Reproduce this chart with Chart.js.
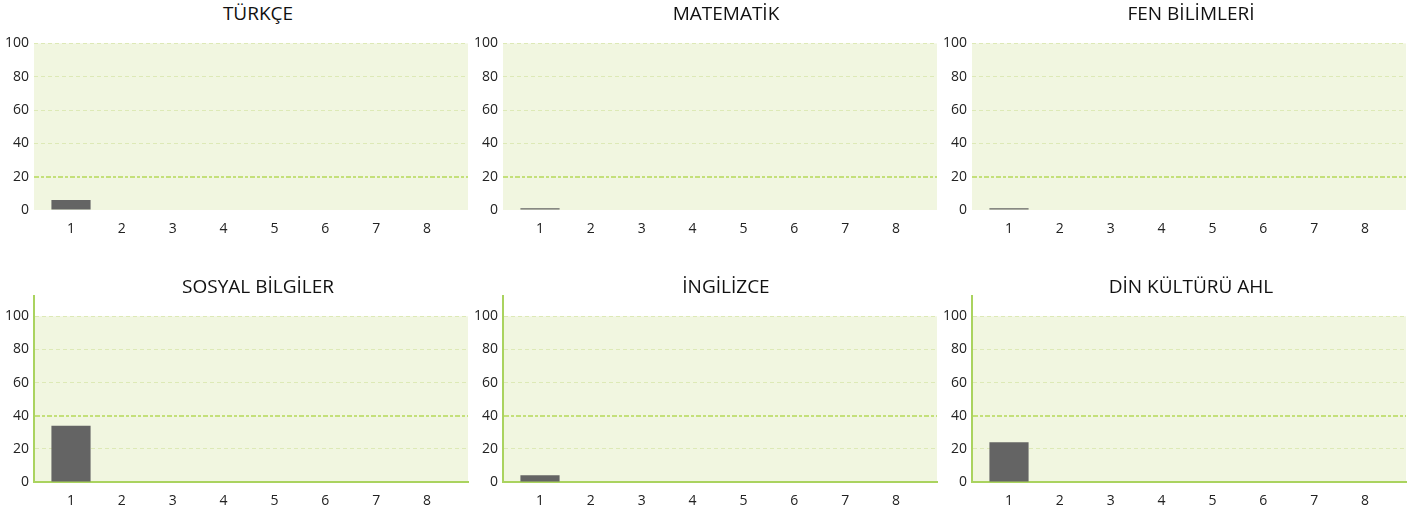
<!DOCTYPE html>
<html>
<head>
<meta charset="utf-8">
<script src="https://cdn.jsdelivr.net/npm/chart.js@4"></script>
<style>
  body { margin: 0; background: #fff; width: 1427px; height: 520px; position: relative; overflow: hidden; font-family: "Open Sans", sans-serif; }
  .box { position: absolute; }
  .ttl { position: absolute; width: 400px; text-align: center; font-size: 19px; line-height: 23px; color: #111; }
</style>
</head>
<body>
<script>
// data
const subjects = ['TÜRKÇE', 'MATEMATİK', 'FEN BİLİMLERİ', 'SOSYAL BİLGİLER', 'İNGİLİZCE', 'DİN KÜLTÜRÜ AHL'];
const exams = [1, 2, 3, 4, 5, 6, 7, 8];
const turkce = [6, 0, 0, 0, 0, 0, 0, 0];
const matematik = [1, 0, 0, 0, 0, 0, 0, 0];
const fen = [1, 0, 0, 0, 0, 0, 0, 0];
const sosyal = [34, 0, 0, 0, 0, 0, 0, 0];
const ingilizce = [4, 0, 0, 0, 0, 0, 0, 0];
const din = [24, 0, 0, 0, 0, 0, 0, 0];
const scores = [turkce, matematik, fen, sosyal, ingilizce, din];
const markLines = [20, 20, 20, 40, 40, 40];
const yMax = [100, 100, 100, 112, 112, 112];

const colLeft = [-1, 468, 937];
const titleCenter = [258, 726, 1191];

// plot background only between 0 and 100
const bgPlugin = {
  id: 'bg',
  beforeDraw(chart) {
    const { ctx, chartArea, scales } = chart;
    const top = scales.y.getPixelForValue(100);
    const bottom = scales.y.getPixelForValue(0);
    ctx.save();
    ctx.fillStyle = '#f1f6e0';
    ctx.fillRect(chartArea.left, top, chartArea.right - chartArea.left, bottom - top);
    ctx.restore();
  }
};

subjects.forEach((name, i) => {
  const col = i % 3, row = Math.floor(i / 3);
  const top = row === 0 ? 30 : 283;
  const height = row === 0 ? 210 : 229;

  const box = document.createElement('div');
  box.className = 'box';
  box.style.left = colLeft[col] + 'px';
  box.style.top = top + 'px';
  box.style.width = '471px';
  box.style.height = height + 'px';
  const cv = document.createElement('canvas');
  box.appendChild(cv);
  document.body.appendChild(box);

  const t = document.createElement('div');
  t.className = 'ttl';
  t.textContent = name;
  t.style.left = (titleCenter[col] - 200) + 'px';
  t.style.top = (row === 0 ? 2 : 275) + 'px';
  document.body.appendChild(t);

  const mark = markLines[i];
  const isMark = ctx => ctx.tick && ctx.tick.value === mark;
  new Chart(cv, {
    type: 'bar',
    data: {
      datasets: [{
        data: exams.map((e, k) => ({ x: e, y: scores[i][k] })),
        backgroundColor: '#646464',
        borderWidth: 0,
        categoryPercentage: 1,
        barPercentage: 0.77
      }]
    },
    options: {
      responsive: true,
      maintainAspectRatio: false,
      animation: false,
      layout: { padding: { top: 10, right: 2, left: 0, bottom: 0 } },
      plugins: { legend: { display: false }, tooltip: { enabled: false } },
      scales: {
        x: {
          type: 'linear',
          offset: false,
          min: 0.2725,
          max: 8.806,
          afterFit(s) { s.height = 30; },
          grid: { display: false, drawTicks: false },
          border: row === 1 ? { display: true, color: '#aad35f', width: 2 } : { display: false },
          ticks: { stepSize: 1, includeBounds: false, padding: 11, color: '#222', font: { family: 'Open Sans', size: 14 } }
        },
        y: {
          min: 0,
          max: yMax[i],
          afterFit(s) { s.width = 35; },
          grid: {
            drawTicks: false,
            lineWidth: ctx => isMark(ctx) ? 2 : 1,
            color: ctx => {
              if (ctx.tick && ctx.tick.value === 0) return 'rgba(0,0,0,0)';
              return isMark(ctx) ? '#c4e07a' : '#dde9b6';
            }
          },
          border: {
            display: row === 1,
            color: '#aad35f',
            width: 2,
            dash: ctx => isMark(ctx) ? [5, 2, 3, 2] : [4, 3]
          },
          ticks: { stepSize: 20, includeBounds: false, padding: 5, color: '#222', font: { family: 'Open Sans', size: 14 } }
        }
      }
    },
    plugins: [bgPlugin]
  });
});
</script>
</body>
</html>
